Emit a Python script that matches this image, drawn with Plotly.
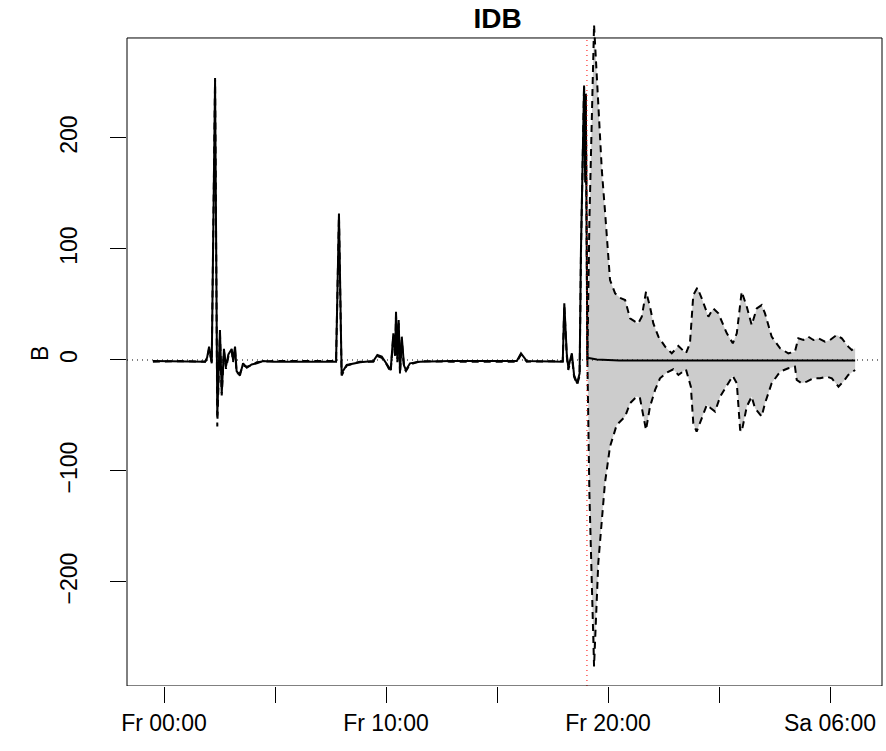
import plotly.graph_objects as go

# ---- data (hours since Fr 00:00) ----
obs_hours = [-0.50, 0.72, 1.85, 1.94, 2.03, 2.15, 2.30, 2.40, 2.52, 2.60, 2.70, 2.79, 2.90, 3.05, 3.11, 3.20,
             3.27, 3.42, 3.56, 3.73, 3.95, 4.18, 4.46, 4.91, 6.13, 7.75, 7.88, 8.00, 8.23, 8.83, 9.43, 9.61,
             9.81, 10.03, 10.21, 10.33, 10.41, 10.45, 10.51, 10.57, 10.63, 10.71, 10.81, 10.90, 11.08, 11.53,
             12.88, 15.14, 15.89, 16.08, 16.34, 17.96, 18.03, 18.14, 18.21, 18.37, 18.47, 18.61, 18.72, 18.78,
             18.84, 18.92, 18.97, 19.00, 19.04, 19.07]
observed = [-1, -1.5, -1.5, 2, 12, -3, 252, -50, 27, -30, 10, -6, 5, 10, 0, 12,
            -10, -14, -3, -7, -4, -3, -1, -1.5, -1.5, -1.5, 132, -12, -4.5, -2, -1, 4.5,
            3, -3, -9, 24, 4, 43.5, 1, 36, -10.5, 21, -5, -9, -3, -1.5,
            -1, -1, -1, 6, -1, -1.5, 51, 6, -7, 6, -13.5, -21, -12, 99,
            174, 246, 160, 238, 100, 2]
fitted = [-1.5, -1, -1.5, 1, 10, -2, 254, -60, 24, -32, 8, -8, 3, 8, -2, 9,
          -12, -12, -5, -6, -5, -2, -1.5, -1, -1, -1, 130, -14, -5, -1.5, -1.5, 3.5,
          2, -4, -11, 22, 2, 40, -2, 33, -13, 18, -7, -10, -4, -1,
          -1.5, -1.5, -1.5, 5, -1.5, -1, 49, 4, -9, 4, -15, -22, -14, 95,
          180, 248, 170, 242, 95, 0]

FORECAST_START = 19.05

fc_hours = [19.07, 19.20, 19.50, 20.50, 31.13]
fc_mean = [2, 1.5, 0.5, -0.5, -0.5]

upper_hours = [19.07, 19.16, 19.37, 19.72, 19.86, 20.09, 20.32, 20.54, 20.77, 20.99, 21.22, 21.36, 21.52,
               21.71, 21.89, 22.04, 22.27, 22.57, 22.87, 23.17, 23.51, 23.69, 23.84, 24.02, 24.22, 24.52,
               24.74, 24.97, 25.35, 25.62, 25.80, 26.02, 26.25, 26.47, 26.70, 26.92, 27.07, 27.37, 27.75,
               28.12, 28.42, 28.57, 28.80, 29.02, 29.25, 29.47, 29.77, 30.00, 30.30, 30.53, 30.82, 30.98, 31.13]
upper = [0, 125, 302, 171, 135, 72, 60, 56, 54, 37.5, 34.5, 33, 39,
         61.5, 48, 33, 21, 12, 6, 12.6, 6, 15, 58.5, 65, 55.6, 39,
         46.5, 42, 24, 15, 24, 61.5, 48, 31.5, 46.5, 49.5, 42, 21, 10.5,
         6, 7.5, 19.5, 18, 21, 18, 19.5, 16.5, 18, 22.5, 19.5, 12, 9, 10.5]

lower_hours = [19.07, 19.16, 19.37, 19.56, 19.86, 20.09, 20.39, 20.77, 20.99, 21.29, 21.44, 21.71, 21.89,
               22.12, 22.34, 22.64, 22.94, 23.17, 23.51, 23.73, 23.84, 23.99, 24.22, 24.45, 24.63, 24.82,
               25.05, 25.35, 25.62, 25.80, 25.95, 26.02, 26.25, 26.47, 26.62, 26.92, 27.07, 27.37, 27.75,
               28.12, 28.42, 28.50, 28.72, 28.95, 29.25, 29.55, 29.85, 30.08, 30.38, 30.60, 30.82, 31.13]
lower = [0, -120, -276, -183, -111, -78, -58.5, -51, -39, -33, -34.5, -63, -42,
         -27, -16.5, -11.4, -8.4, -13.5, -8.4, -24, -57, -64.6, -52.5, -40.5, -43.5, -46.5,
         -33, -22.5, -14.4, -21, -63, -64.6, -42, -33, -43.5, -51, -39, -21, -10.5,
         -7.5, -6, -18, -21, -19.5, -16.5, -16.5, -15, -16.5, -24, -19.5, -13.5, -9]

tick_hours = [0, 5, 10, 15, 20, 25, 30]
tick_labels = ["Fr 00:00", "", "Fr 10:00", "", "Fr 20:00", "", "Sa 06:00"]
y_ticks = [-200, -100, 0, 100, 200]
y_labels = ["\u2212200", "\u2212100", "0", "100", "200"]

title_text = "IDB"
y_title = "B"

# axis limits (plot box)
X_MIN, X_MAX = -1.667, 32.34
Y_MIN, Y_MAX = -293.7, 290.1
Y_TOP_EXT = 304.5   # drawing region extends a bit above the box (lines not clipped at box top)

# ---- figure ----
fig = go.Figure()

fig.add_trace(go.Scatter(
    x=upper_hours + lower_hours[::-1], y=upper + lower[::-1],
    mode="lines", fill="toself", fillcolor="#CCCCCC",
    line=dict(width=0, color="rgba(0,0,0,0)"), hoverinfo="skip"))

dash = "7px,5px"
fig.add_trace(go.Scatter(x=upper_hours, y=upper, mode="lines",
                         line=dict(color="black", width=2, dash=dash)))
fig.add_trace(go.Scatter(x=lower_hours, y=lower, mode="lines",
                         line=dict(color="black", width=2, dash=dash)))
fig.add_trace(go.Scatter(x=obs_hours, y=fitted, mode="lines",
                         line=dict(color="black", width=2, dash=dash)))
fig.add_trace(go.Scatter(x=obs_hours, y=observed, mode="lines",
                         line=dict(color="black", width=2)))
fig.add_trace(go.Scatter(x=fc_hours, y=fc_mean, mode="lines",
                         line=dict(color="black", width=2)))

# reference lines
fig.add_shape(type="line", xref="paper", x0=0, x1=1, yref="y", y0=0, y1=0,
              line=dict(color="black", width=1, dash="1px,4px"))
fig.add_shape(type="line", xref="x", x0=FORECAST_START, x1=FORECAST_START, yref="y", y0=Y_MIN, y1=Y_MAX,
              line=dict(color="red", width=1, dash="1px,4px"))
# plot box
fig.add_shape(type="rect", xref="paper", x0=0, x1=1, yref="y", y0=Y_MIN, y1=Y_MAX,
              line=dict(color="black", width=1), fillcolor="rgba(0,0,0,0)", layer="above")

fig.add_annotation(text=y_title, xref="paper", x=0, xshift=-87, xanchor="center",
                   yref="paper", y=0.5, yanchor="middle", textangle=-90,
                   showarrow=False, font=dict(size=23))

fig.update_layout(
    width=886, height=751,
    margin=dict(l=127, r=4, t=22, b=65),
    plot_bgcolor="white", paper_bgcolor="white",
    showlegend=False,
    font=dict(family="Liberation Sans, Arial, sans-serif", size=23, color="black"),
    title=dict(text="<b>" + title_text + "</b>", x=0.491, xref="paper", xanchor="center",
               y=1 - 18 / 751, yanchor="middle", font=dict(size=28)),
)
fig.update_xaxes(
    range=[X_MIN, X_MAX], tickmode="array", tickvals=tick_hours, ticktext=tick_labels,
    ticks="outside", ticklen=16, tickwidth=1, tickcolor="black",
    showline=False, showgrid=False, zeroline=False, ticklabelstandoff=0)
fig.update_yaxes(
    range=[Y_MIN, Y_TOP_EXT], tickmode="array", tickvals=y_ticks, ticktext=y_labels,
    tickangle=-90, ticks="outside", ticklen=16, tickwidth=1, tickcolor="black",
    showline=False, showgrid=False, zeroline=False, ticklabelstandoff=24)

fig.write_html("out.html")
